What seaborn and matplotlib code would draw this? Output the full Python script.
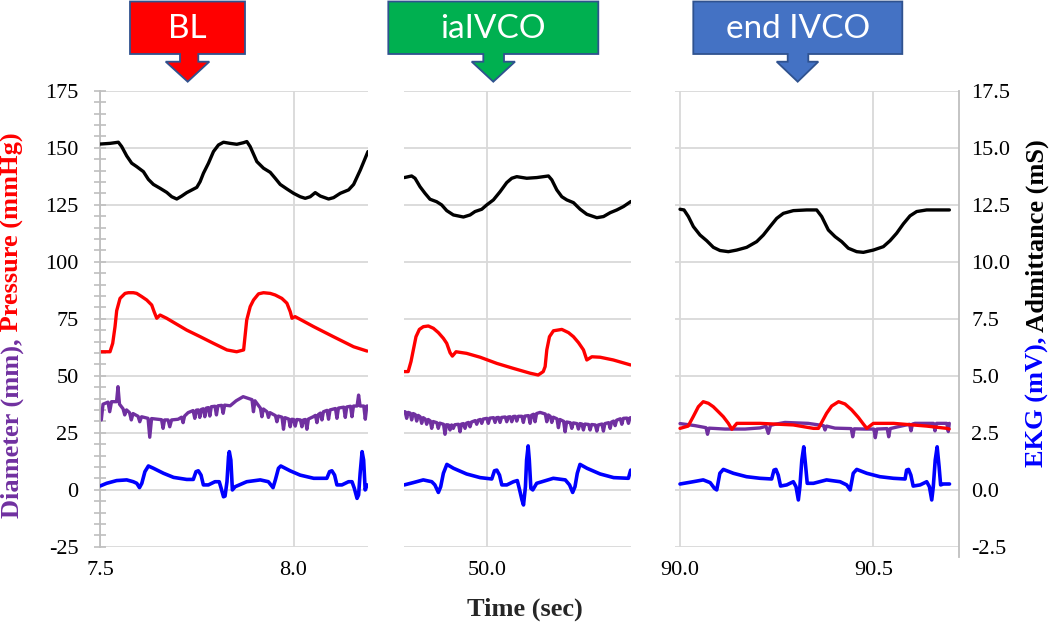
import numpy as np
import pandas as pd
import matplotlib
matplotlib.use("Agg")
import matplotlib.pyplot as plt
import seaborn as sns
from matplotlib.patches import Polygon
from matplotlib.text import Annotation
from matplotlib.ticker import MultipleLocator, FormatStrFormatter

# ---------------- data ----------------
# Panel 1: baseline (BL)
t_bl_adm = [7.5000, 7.5259, 7.5474, 7.5560, 7.5690, 7.5819, 7.5948, 7.6121, 7.6250, 7.6379, 7.6552,
            7.6724, 7.6853, 7.6983, 7.7112, 7.7241, 7.7500, 7.7586, 7.7672, 7.7802, 7.7931, 7.8060,
            7.8190, 7.8362, 7.8534, 7.8707, 7.8793, 7.8879, 7.9052, 7.9224, 7.9397, 7.9526, 7.9655,
            7.9828, 8.0000, 8.0172, 8.0302, 8.0431, 8.0560, 8.0690, 8.0905, 8.1034, 8.1207, 8.1422,
            8.1552, 8.1724, 8.1922]
adm_bl = [15.16, 15.19, 15.24, 15.05, 14.64, 14.32, 14.17, 13.95, 13.61, 13.39, 13.22,
          13.04, 12.85, 12.75, 12.88, 13.03, 13.26, 13.51, 13.88, 14.32, 14.83, 15.12,
          15.24, 15.19, 15.15, 15.22, 15.27, 15.05, 14.39, 14.10, 13.92, 13.66, 13.39,
          13.19, 13.00, 12.85, 12.78, 12.85, 13.03, 12.88, 12.75, 12.81, 13.00, 13.15,
          13.39, 14.02, 14.83]

t_bl_p = [7.5000, 7.5259, 7.5328, 7.5388, 7.5431, 7.5517, 7.5647, 7.5733, 7.5862, 7.5948, 7.6078,
          7.6207, 7.6336, 7.6397, 7.6466, 7.6552, 7.6720, 7.7240, 7.7590, 7.7930, 7.8280, 7.8530,
          7.8710, 7.8790, 7.8880, 7.8966, 7.9095, 7.9224, 7.9397, 7.9526, 7.9698, 7.9828, 7.9914,
          7.9960, 8.0040, 8.0520, 8.1030, 8.1550, 8.1900]
p_bl = [60.5, 60.5, 64.2, 71.5, 78.5, 83.9, 86.1, 86.4, 86.4, 86.1, 84.7,
        83.2, 81.0, 78.1, 75.2, 76.6, 75.2, 70.0, 67.1, 64.2, 61.3, 60.5,
        61.3, 74.4, 80.3, 83.2, 85.9, 86.4, 86.1, 85.4, 83.9, 81.8, 78.1,
        75.2, 75.9, 71.5, 67.1, 62.7, 60.8]

t_bl_d = [7.5000, 7.5034, 7.5078, 7.5207, 7.5251, 7.5297, 7.5427, 7.5465, 7.5504, 7.5595, 7.5639,
          7.5685, 7.5763, 7.5809, 7.5853, 7.5983, 7.6027, 7.6073, 7.6241, 7.6285, 7.6332, 7.6590,
          7.6629, 7.6668, 7.6758, 7.6802, 7.6849, 7.7017, 7.7108, 7.7146, 7.7185, 7.7276, 7.7405,
          7.7449, 7.7490, 7.7542, 7.7578, 7.7617, 7.7669, 7.7708, 7.7746, 7.7798, 7.7837, 7.7876,
          7.7969, 7.8008, 7.8046, 7.8142, 7.8181, 7.8220, 7.8362, 7.8517, 7.8698, 7.8926, 7.8964,
          7.9003, 7.9143, 7.9182, 7.9220, 7.9313, 7.9352, 7.9391, 7.9531, 7.9570, 7.9608, 7.9701,
          7.9740, 7.9779, 7.9875, 7.9913, 7.9952, 8.0004, 8.0043, 8.0082, 8.0177, 8.0216, 8.0255,
          8.0306, 8.0345, 8.0384, 8.0508, 8.0565, 8.0604, 8.0643, 8.0694, 8.0733, 8.0772, 8.0865,
          8.0904, 8.0943, 8.1082, 8.1121, 8.1160, 8.1297, 8.1336, 8.1375, 8.1470, 8.1509, 8.1548,
          8.1641, 8.1680, 8.1719, 8.1814, 8.1853, 8.1892, 8.1923]
d_bl = [35.0, 30.6, 37.5, 38.4, 34.2, 38.6, 38.6, 45.2, 37.5, 35.5, 32.8,
        35.0, 33.8, 30.6, 33.4, 32.2, 29.8, 32.0, 31.3, 23.0, 31.2, 30.7,
        26.9, 30.6, 30.6, 27.6, 30.6, 30.9, 31.8, 29.4, 32.3, 33.8, 34.7,
        31.3, 34.9, 35.0, 31.7, 35.2, 35.5, 32.0, 35.8, 36.0, 32.3, 36.4,
        36.6, 32.8, 36.8, 37.0, 33.5, 37.1, 36.8, 39.0, 40.8, 39.5, 34.2,
        39.0, 35.8, 32.0, 35.4, 34.2, 31.7, 33.8, 32.5, 29.8, 32.3, 31.8,
        26.5, 31.6, 31.0, 27.6, 30.9, 30.8, 27.9, 30.8, 30.6, 27.6, 30.6,
        30.8, 26.5, 31.0, 32.0, 32.6, 29.4, 33.0, 33.6, 30.6, 34.2, 34.8,
        30.9, 35.0, 35.6, 31.3, 35.8, 36.2, 31.7, 36.3, 36.6, 32.0, 36.7,
        36.7, 41.5, 36.7, 36.7, 30.9, 36.7, 36.7]

t_bl_e = [7.500, 7.517, 7.543, 7.569, 7.586, 7.595, 7.602, 7.608, 7.616, 7.625, 7.638, 7.664, 7.690,
          7.724, 7.741, 7.748, 7.754, 7.761, 7.767, 7.780, 7.797, 7.808, 7.813, 7.819, 7.823, 7.828,
          7.832, 7.834, 7.838, 7.842, 7.849, 7.879, 7.914, 7.935, 7.947, 7.953, 7.961, 7.967, 7.991,
          8.017, 8.052, 8.086, 8.093, 8.099, 8.106, 8.112, 8.125, 8.142, 8.151, 8.157, 8.164, 8.168,
          8.172, 8.177, 8.181, 8.185, 8.190]
e_bl = [0.16, 0.28, 0.40, 0.43, 0.35, 0.28, 0.09, 0.28, 0.79, 1.04, 0.94, 0.72, 0.54,
        0.45, 0.45, 0.79, 0.83, 0.64, 0.21, 0.21, 0.35, 0.35, 0.06, -0.31, -0.28, 0.35,
        1.45, 1.67, 1.30, -0.01, 0.13, 0.35, 0.43, 0.35, 0.09, 0.43, 0.94, 1.04, 0.83,
        0.64, 0.50, 0.50, 0.79, 0.83, 0.64, 0.21, 0.21, 0.35, 0.35, 0.06, -0.38, -0.23,
        0.72, 1.67, 1.30, -0.01, 0.21]

# Panel 2: iaIVCO
t_ia_adm = [49.7871, 49.8060, 49.8147, 49.8276, 49.8405, 49.8534, 49.8707, 49.8836, 49.8966, 49.9138,
            49.9397, 49.9569, 49.9698, 49.9871, 50.0000, 50.0172, 50.0345, 50.0517, 50.0647, 50.0776,
            50.1034, 50.1293, 50.1595, 50.1681, 50.1810, 50.1940, 50.2069, 50.2241, 50.2414, 50.2586,
            50.2845, 50.3017, 50.3190, 50.3362, 50.3534, 50.3724]
adm_ia = [13.69, 13.76, 13.66, 13.29, 13.00, 12.74, 12.63, 12.49, 12.24, 12.05,
          11.96, 12.05, 12.20, 12.30, 12.49, 12.71, 13.07, 13.47, 13.66, 13.73,
          13.66, 13.69, 13.76, 13.59, 13.15, 12.85, 12.71, 12.59, 12.30, 12.08,
          11.93, 11.98, 12.15, 12.27, 12.42, 12.64]

t_ia_p = [49.7870, 49.7970, 49.8043, 49.8103, 49.8172, 49.8259, 49.8362, 49.8491, 49.8621, 49.8750,
          49.8879, 49.8966, 49.9052, 49.9112, 49.9207, 49.9480, 49.9830, 50.0260, 50.0690, 50.1120,
          50.1330, 50.1460, 50.1509, 50.1552, 50.1621, 50.1724, 50.1940, 50.2112, 50.2241, 50.2371,
          50.2500, 50.2586, 50.2716, 50.2930, 50.3270, 50.3720]
p_ia = [51.8, 51.8, 56.2, 61.3, 67.1, 70.3, 71.5, 71.8, 70.8, 68.9,
        66.4, 64.2, 60.1, 58.6, 60.5, 59.8, 58.1, 55.4, 53.2, 51.1,
        50.3, 51.8, 54.0, 61.3, 67.1, 69.7, 70.3, 68.9, 67.1, 64.5,
        61.3, 56.9, 58.3, 58.1, 56.9, 54.7]

t_ia_d = [49.7869, 49.7892, 49.7931, 49.7970, 49.8022, 49.8060, 49.8099, 49.8151, 49.8190, 49.8229,
          49.8280, 49.8319, 49.8358, 49.8410, 49.8448, 49.8487, 49.8539, 49.8578, 49.8616, 49.8710,
          49.8748, 49.8787, 49.8883, 49.8922, 49.8960, 49.9012, 49.9051, 49.9092, 49.9136, 49.9175,
          49.9271, 49.9310, 49.9348, 49.9400, 49.9439, 49.9478, 49.9529, 49.9568, 49.9607, 49.9703,
          49.9741, 49.9780, 49.9832, 49.9871, 49.9909, 50.0003, 50.0041, 50.0080, 50.0176, 50.0215,
          50.0253, 50.0305, 50.0344, 50.0383, 50.0478, 50.0517, 50.0556, 50.0608, 50.0647, 50.0685,
          50.0737, 50.0776, 50.0815, 50.0908, 50.0946, 50.0985, 50.1081, 50.1120, 50.1159, 50.1210,
          50.1249, 50.1288, 50.1378, 50.1513, 50.1552, 50.1590, 50.1642, 50.1681, 50.1720, 50.1813,
          50.1852, 50.1890, 50.1986, 50.2025, 50.2064, 50.2159, 50.2198, 50.2237, 50.2330, 50.2369,
          50.2408, 50.2459, 50.2498, 50.2537, 50.2633, 50.2671, 50.2710, 50.2806, 50.2845, 50.2883,
          50.2977, 50.3015, 50.3054, 50.3150, 50.3189, 50.3227, 50.3279, 50.3318, 50.3357, 50.3452,
          50.3491, 50.3530, 50.3623, 50.3662, 50.3701, 50.3724]
d_ia = [34.2, 34.2, 31.3, 33.9, 33.6, 30.6, 33.4, 33.0, 30.1, 32.6,
        32.0, 29.1, 31.6, 31.0, 28.7, 30.8, 30.2, 26.9, 29.9, 29.4,
        26.9, 29.2, 28.7, 24.3, 28.5, 28.4, 26.2, 28.4, 26.9, 28.5,
        28.7, 25.4, 28.8, 29.0, 26.9, 29.2, 29.5, 27.6, 29.7, 30.3,
        28.7, 30.5, 30.8, 29.1, 31.0, 31.3, 29.1, 31.4, 31.6, 29.5,
        31.6, 31.7, 29.5, 31.7, 31.9, 29.8, 31.9, 32.0, 29.8, 32.1,
        32.2, 30.1, 32.2, 32.2, 29.5, 32.3, 32.5, 29.1, 32.7, 33.1,
        29.8, 33.4, 33.9, 33.2, 29.8, 32.8, 32.2, 29.5, 31.8, 31.1,
        27.2, 30.8, 30.0, 25.4, 29.7, 29.4, 26.9, 29.3, 29.0, 26.6,
        29.0, 28.8, 26.2, 28.8, 28.6, 26.2, 28.6, 28.4, 25.7, 28.4,
        28.8, 25.7, 29.0, 29.4, 26.9, 29.7, 30.1, 28.1, 30.5, 31.1,
        28.7, 31.3, 31.4, 29.1, 31.5, 31.6]

t_ia_e = [49.787, 49.810, 49.836, 49.858, 49.866, 49.875, 49.881, 49.888, 49.897, 49.914, 49.948,
          49.983, 50.013, 50.020, 50.026, 50.033, 50.039, 50.052, 50.069, 50.079, 50.084, 50.091,
          50.095, 50.100, 50.103, 50.107, 50.110, 50.114, 50.119, 50.129, 50.172, 50.203, 50.214,
          50.222, 50.228, 50.234, 50.241, 50.259, 50.293, 50.328, 50.366, 50.372]
e_ia = [0.21, 0.31, 0.43, 0.35, 0.21, -0.12, 0.13, 0.72, 1.11, 0.94, 0.69,
        0.53, 0.47, 0.83, 0.86, 0.64, 0.21, 0.21, 0.35, 0.40, 0.06, -0.45,
        -0.67, 0.13, 1.30, 1.92, 1.30, 0.06, -0.01, 0.28, 0.50, 0.43, 0.21,
        -0.12, 0.13, 0.72, 1.11, 0.94, 0.69, 0.53, 0.50, 0.86]

# Panel 3: end IVCO
t_end_adm = [90.0000, 90.0103, 90.0216, 90.0345, 90.0517, 90.0690, 90.0862, 90.1034, 90.1250, 90.1466,
             90.1724, 90.1983, 90.2155, 90.2328, 90.2500, 90.2672, 90.2931, 90.3276, 90.3534, 90.3664,
             90.3836, 90.4009, 90.4181, 90.4353, 90.4569, 90.4741, 90.5000, 90.5259, 90.5431, 90.5603,
             90.5776, 90.5948, 90.6121, 90.6379, 90.6724, 90.6966]
adm_end = [12.30, 12.27, 11.98, 11.54, 11.17, 10.92, 10.63, 10.49, 10.44, 10.51,
           10.63, 10.88, 11.17, 11.54, 11.90, 12.12, 12.24, 12.27, 12.27, 11.98,
           11.39, 11.10, 10.88, 10.59, 10.44, 10.41, 10.51, 10.66, 10.92, 11.25,
           11.66, 12.01, 12.20, 12.27, 12.27, 12.27]

t_end_p = [90.0000, 90.0210, 90.0340, 90.0474, 90.0600, 90.0733, 90.0860, 90.0991, 90.1120, 90.1250,
           90.1340, 90.1470, 90.2070, 90.2930, 90.3450, 90.3580, 90.3790, 90.3922, 90.4100, 90.4267,
           90.4440, 90.4612, 90.4741, 90.4830, 90.5000, 90.5520, 90.6380, 90.6900, 90.6960]
p_end = [26.9, 27.9, 32.0, 36.4, 38.6, 37.9, 36.4, 34.2, 32.0, 29.1,
         26.5, 29.1, 29.1, 28.4, 26.9, 26.9, 33.5, 36.7, 38.6, 37.6,
         35.0, 31.7, 28.8, 26.9, 29.1, 29.1, 27.9, 26.9, 26.6]

t_end_d = [90.0000, 90.0388, 90.0672, 90.0711, 90.0750, 90.1164, 90.1681, 90.2069, 90.2224, 90.2283,
           90.2340, 90.2457, 90.2715, 90.3310, 90.3711, 90.3750, 90.3788, 90.4008, 90.4427, 90.4466,
           90.4505, 90.4784, 90.5012, 90.5050, 90.5089, 90.5358, 90.5397, 90.5436, 90.5637, 90.5935,
           90.5974, 90.6012, 90.6077, 90.6556, 90.6594, 90.6633, 90.6899, 90.6938, 90.6964]
d_end = [29.0, 28.1, 27.2, 24.3, 27.0, 26.6, 26.6, 27.1, 27.8, 24.7,
         28.2, 28.7, 29.5, 29.1, 28.1, 26.2, 27.9, 27.0, 26.8, 23.2,
         26.7, 26.6, 26.6, 22.8, 26.6, 26.8, 23.2, 26.8, 27.6, 28.7,
         25.8, 28.8, 29.1, 29.1, 25.8, 29.1, 29.1, 25.5, 29.1]

t_end_e = [90.000, 90.034, 90.060, 90.078, 90.089, 90.095, 90.103, 90.112, 90.138, 90.172, 90.207,
           90.237, 90.243, 90.248, 90.254, 90.260, 90.276, 90.293, 90.300, 90.306, 90.310, 90.315,
           90.320, 90.325, 90.329, 90.345, 90.379, 90.414, 90.431, 90.440, 90.448, 90.457, 90.483,
           90.517, 90.552, 90.582, 90.586, 90.591, 90.597, 90.603, 90.621, 90.638, 90.645, 90.651,
           90.655, 90.660, 90.665, 90.670, 90.674, 90.681, 90.697]
e_end = [0.25, 0.35, 0.43, 0.31, 0.06, -0.01, 0.72, 0.89, 0.72, 0.57, 0.50,
         0.47, 0.86, 0.89, 0.64, 0.16, 0.21, 0.35, 0.13, -0.45, 0.13, 1.30,
         1.88, 1.01, 0.28, 0.28, 0.43, 0.35, 0.21, -0.01, 0.72, 0.89, 0.72,
         0.57, 0.50, 0.47, 0.86, 0.89, 0.64, 0.16, 0.21, 0.35, 0.13, -0.45,
         0.13, 1.30, 1.88, 1.01, 0.21, 0.25, 0.25]

phase_labels = ["BL", "iaIVCO", "end IVCO"]
x_ticks = [[7.5, 8.0], [50.0], [90.0, 90.5]]
left_ticks = [-25, 0, 25, 50, 75, 100, 125, 150, 175]
right_ticks = [-2.5, 0.0, 2.5, 5.0, 7.5, 10.0, 12.5, 15.0, 17.5]

# ---------------- styling ----------------
sns.set_theme(style="white")
plt.rcParams['font.family'] = ['Liberation Serif', 'DejaVu Serif']
plt.rcParams['axes.unicode_minus'] = False

C_ADM, C_P, C_D, C_E = "#000000", "#FF0000", "#7030A0", "#0000FF"
GRID = "#d9d9d9"
AXC = "#bfbfbf"
W, H = 1050, 624
TOP, BOT = 90.7, 546.7
TICK_FS = 16


def fx(px):
    return px / W


def fy(py):
    return 1 - py / H


fig = plt.figure(figsize=(W / 100, H / 100), dpi=100)

panels = [
    dict(l=100, r=368, xlim=(7.5, 8.1923),
         series=[(t_bl_d, d_bl, t_bl_p, p_bl), (t_bl_e, e_bl, t_bl_adm, adm_bl)]),
    dict(l=404.3, r=630.7, xlim=(49.787, 50.372),
         series=[(t_ia_d, d_ia, t_ia_p, p_ia), (t_ia_e, e_ia, t_ia_adm, adm_ia)]),
    dict(l=675, r=959, xlim=(89.987, 90.7215),
         series=[(t_end_d, d_end, t_end_p, p_end), (t_end_e, e_end, t_end_adm, adm_end)]),
]

LW = 2.4
for i, pn in enumerate(panels):
    ax = fig.add_axes([fx(pn['l']), fy(BOT), fx(pn['r'] - pn['l']), (BOT - TOP) / H])
    axr = ax.twinx()
    (td, dv, tp, pv), (te, ev, ta, av) = pn['series']
    sns.lineplot(x=td, y=dv, ax=ax, color=C_D, linewidth=LW, legend=False)
    sns.lineplot(x=tp, y=pv, ax=ax, color=C_P, linewidth=LW, legend=False)
    sns.lineplot(x=te, y=ev, ax=axr, color=C_E, linewidth=LW + 0.2, legend=False)
    sns.lineplot(x=ta, y=av, ax=axr, color=C_ADM, linewidth=LW, legend=False)
    for ln in ax.lines + axr.lines:
        ln.set_solid_joinstyle('round')
        ln.set_solid_capstyle('round')

    ax.set_xlim(*pn['xlim'])
    ax.set_ylim(-25, 175)
    axr.set_ylim(-2.5, 17.5)
    ax.set_xlabel("")
    ax.set_ylabel("")
    axr.set_ylabel("")
    ax.set_yticks(left_ticks)
    ax.set_xticks(x_ticks[i])
    ax.xaxis.set_major_formatter(FormatStrFormatter('%.1f'))
    ax.grid(True, color=GRID, linewidth=1.3)
    ax.set_axisbelow(True)
    for s in ax.spines.values():
        s.set_visible(False)
    for s in axr.spines.values():
        s.set_visible(False)
    ax.tick_params(axis='x', length=0, pad=10, labelsize=TICK_FS, colors='black')
    axr.grid(False)

    if i == 0:
        ax.spines['left'].set_visible(True)
        ax.spines['left'].set_color(AXC)
        ax.spines['left'].set_linewidth(1.3)
        ax.yaxis.set_minor_locator(MultipleLocator(5))
        ax.tick_params(axis='y', which='both', direction='inout', length=9, width=1.2,
                       color=AXC, pad=11, labelsize=TICK_FS, labelcolor='black', left=True)
    else:
        ax.tick_params(axis='y', left=False, labelleft=False)

    if i == 2:
        axr.spines['right'].set_visible(True)
        axr.spines['right'].set_color(AXC)
        axr.spines['right'].set_linewidth(1.3)
        axr.spines['right'].set_bounds(-2.95, 17.5)
        axr.set_yticks(right_ticks)
        axr.yaxis.set_major_formatter(FormatStrFormatter('%.1f'))
        axr.tick_params(axis='y', length=0, pad=9, labelsize=TICK_FS, labelcolor='black', right=True)
    else:
        axr.set_yticks([])

# ---------------- axis titles (two-colour) ----------------
lab_kw = dict(fontsize=19, fontweight='bold', rotation=90, ha='center', va='bottom',
              family=['Liberation Serif', 'DejaVu Serif'])
t1 = fig.text(fx(12), fy(518), "Diameter (mm),", color=C_D, **lab_kw)
fig.add_artist(Annotation(" Pressure (mmHg)", xy=(0.5, 1), xycoords=t1, color=C_P, **lab_kw))
t2 = fig.text(fx(1037), fy(467), "EKG (mV),", color=C_E, **lab_kw)
fig.add_artist(Annotation(" Admittance (mS)", xy=(0.5, 1), xycoords=t2, color=C_ADM, **lab_kw))
fig.text(fx(525), fy(609), "Time (sec)", fontsize=19, fontweight='bold', ha='center', va='center')

# ---------------- phase call-outs ----------------
callouts = [
    dict(x0=130, x1=245, xs0=180, xs1=198.3, xh0=165.7, xh1=209.3, xt=187.7, fc="#FF0000"),
    dict(x0=388.3, x1=598.3, xs0=483.3, xs1=504, xh0=471.7, xh1=515, xt=493.3, fc="#00B050"),
    dict(x0=693.3, x1=902.3, xs0=787.7, xs1=808.3, xh0=776.7, xh1=818.3, xt=797.7, fc="#4472C4"),
]
for lbl, c in zip(phase_labels, callouts):
    pts_px = [(c['x0'], 1.5), (c['x1'], 1.5), (c['x1'], 54), (c['xs1'], 54), (c['xs1'], 61.7),
              (c['xh1'], 61.7), (c['xt'], 81.7), (c['xh0'], 61.7), (c['xs0'], 61.7), (c['xs0'], 54),
              (c['x0'], 54)]
    pts = [(fx(a), fy(b)) for a, b in pts_px]
    fig.add_artist(Polygon(pts, closed=True, transform=fig.transFigure, facecolor=c['fc'],
                           edgecolor="#2F528F", linewidth=1.3))
    fig.text(fx((c['x0'] + c['x1']) / 2), fy(29), lbl, color='white', fontsize=24,
             family=['Lato', 'DejaVu Sans'], ha='center', va='center')

fig.savefig("out.png", dpi=100)
